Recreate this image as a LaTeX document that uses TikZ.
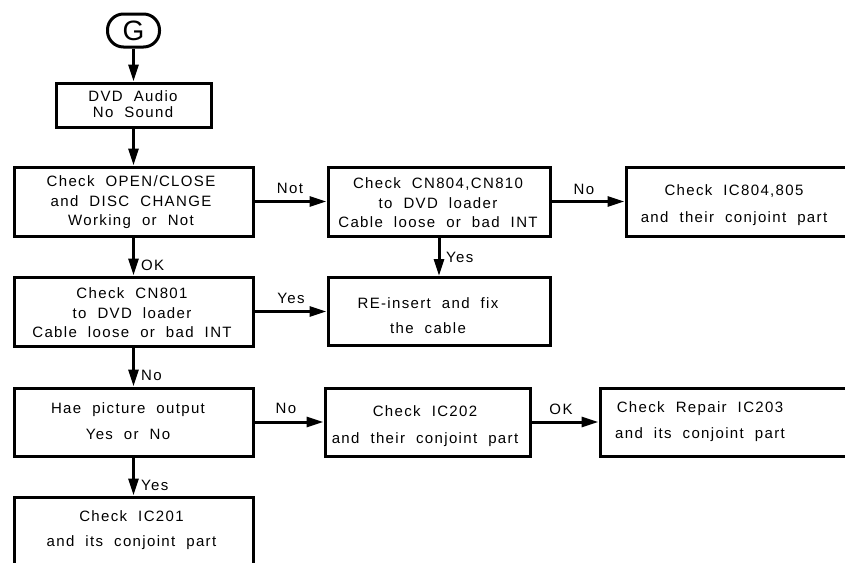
\documentclass[tikz,border=0pt]{standalone}
\usepackage{fontspec}
\setmainfont{Liberation Sans}[LetterSpace=9,WordSpace=2]
\usetikzlibrary{arrows.meta}
\tikzset{
  box/.style={draw, line width=3pt, inner sep=0pt},
  oval/.style={draw, line width=3pt, rounded corners=16pt, minimum width=52pt, minimum height=33pt, inner sep=0pt},
  txt/.style={align=center, inner sep=0pt, font=\fontsize{15}{19.5}\selectfont},
  lbl/.style={inner sep=0pt, font=\fontsize{15}{16}\selectfont},
  arr/.style={line width=3pt, -{Triangle[length=17pt,width=10pt]}}
}
\begin{document}
\begin{tikzpicture}[x=1pt,y=-1pt]
\useasboundingbox (0,0) rectangle (845,562);
\clip (0,0) rectangle (845,562);
% boxes
\node[oval] (g) at (133.5,30.5) {\fontsize{28}{28}\selectfont\addfontfeature{LetterSpace=0}G};
\node[box, minimum width=155pt, minimum height=44pt] (b1) at (133.5,105) {};
\node[box, minimum width=239pt, minimum height=69pt] (b2) at (133.5,201.5) {};
\node[box, minimum width=239pt, minimum height=69pt] (b3) at (133.5,311.5) {};
\node[box, minimum width=239pt, minimum height=68pt] (b4) at (133.5,422) {};
\node[box, minimum width=239pt, minimum height=90pt] (b5) at (133.5,542) {};
\node[box, minimum width=222pt, minimum height=69pt] (c1) at (439,201.5) {};
\node[box, minimum width=222pt, minimum height=68pt] (c2) at (439,311.5) {};
\node[box, minimum width=244pt, minimum height=69pt] (d1) at (748,201.5) {};
\node[box, minimum width=205pt, minimum height=68pt] (e1) at (427.5,422) {};
\node[box, minimum width=270pt, minimum height=68pt] (e2) at (735,422) {};
% texts
\node[txt] (t1) at (133,104) {DVD Audio\\[-3.5pt]No Sound};
\node[txt] (t2) at (131,202.5) {Check OPEN/CLOSE\\and DISC CHANGE\\Working or Not};
\node[txt] (t3) at (132,313) {Check CN801\\to DVD loader\\Cable loose or bad INT};
\node[txt] (t4) at (128,421.5) {Hae picture output\\[6.5pt]Yes or No};
\node[txt] (t5) at (131.5,530.5) {Check IC201\\[5.5pt]and its conjoint part};
\node[txt] (tc1) at (438,203) {Check CN804,CN810\\to DVD loader\\Cable loose or bad INT};
\node[txt] (tc2) at (428,315.5) {RE-insert and fix\\[5.5pt]the cable};
\node[txt] (td1) at (734,205.5) {Check IC804,805\\[7.5pt]and their conjoint part};
\node[txt] (te1) at (425,426.5) {Check IC202\\[7.5pt]and their conjoint part};
\node[txt] (te2) at (700,422) {Check Repair IC203\\[6.5pt]and its conjoint part};
% connectors
\draw[arr] (g) -- (b1);
\draw[arr] (b1) -- (b2);
\draw[arr] (b2) -- (b3);
\draw[arr] (b3) -- (b4);
\draw[arr] (b4) -- (b5);
\draw[arr] (b2) -- (c1);
\draw[arr] (c1) -- (d1.west |- c1.east);
\draw[arr] (c1) -- (c2);
\draw[arr] (b3) -- (c2.west |- b3.east);
\draw[arr] (b4) -- (e1);
\draw[arr] (e1) -- (e2.west |- e1.east);
% labels
\node[lbl] (l1) at (290,188) {Not};
\node[lbl] (l2) at (584,189) {No};
\node[lbl] (l3) at (291,298) {Yes};
\node[lbl] (l4) at (286,408) {No};
\node[lbl] (l5) at (561,409) {OK};
\node[lbl, anchor=west] (l6) at (141,265) {OK};
\node[lbl, anchor=west] (l7) at (141,375) {No};
\node[lbl, anchor=west] (l8) at (141,485) {Yes};
\node[lbl, anchor=west] (l9) at (446,257) {Yes};
\end{tikzpicture}
\end{document}
